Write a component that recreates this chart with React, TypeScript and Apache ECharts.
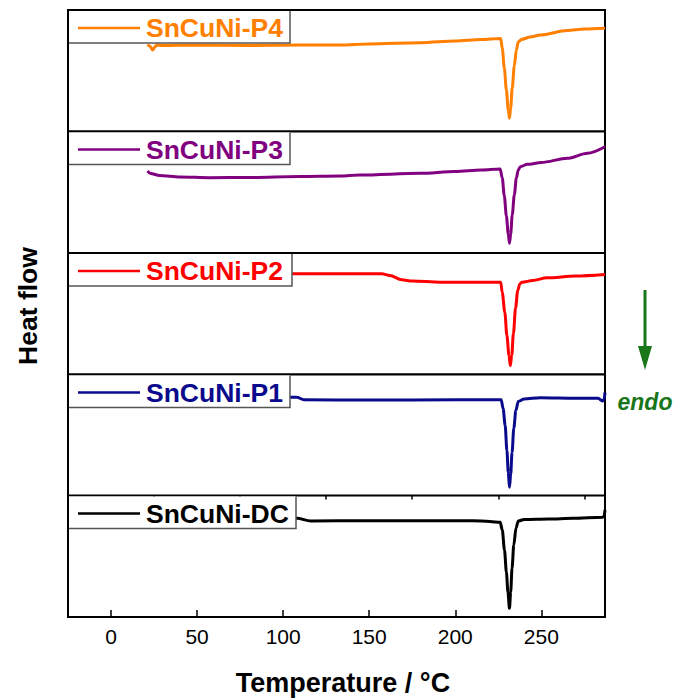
import React, { useEffect, useRef } from "react";
import * as echarts from "echarts";

const xMin = -25;
const xMax = 287;
const majorTicks = [0, 50, 100, 150, 200, 250];
const minorTicks = [25, 75, 125, 175, 225, 275];

const names = ["SnCuNi-P4", "SnCuNi-P3", "SnCuNi-P2", "SnCuNi-P1", "SnCuNi-DC"];
const colors = ["#ff7f00", "#800080", "#ff0000", "#0a0a8c", "#000000"];

// heat flow (arbitrary units) vs temperature (°C)
const p4: number[][] = [
  [21.2, 87], [22.5, 85.5], [24.2, 81.5], [25.5, 84.5], [26.5, 86.5], [30, 86], [47, 86.5], [80, 86],
  [110, 86.5], [133, 86.5], [150, 87.5], [180, 88.8], [200, 90.5], [215, 92], [226.4, 93],
  [227.3, 83.5], [228.5, 63.5], [229.7, 41.5], [230.8, 21.5], [231.5, 13.2], [232.2, 23.5],
  [233.1, 43.5], [234.3, 65.5], [235.5, 81.5], [236.6, 89.5], [238.4, 92], [243.6, 94.5],
  [249.4, 96.5], [265, 101], [275, 102.5], [287, 103.2],
];
const p3: number[][] = [
  [21.2, 82], [23, 79.5], [28.2, 77.5], [40, 76], [57.3, 75.3], [80, 75.5], [109.7, 76.5], [133, 77],
  [144.6, 78], [179.6, 79.7], [200, 81.5], [215, 83], [226.1, 84],
  [227.3, 75], [228.5, 57], [229.7, 37], [230.8, 19], [231.5, 9.7], [232.2, 19], [233.1, 38],
  [234.3, 58], [235.5, 75], [236.6, 83], [237.8, 86.3], [241.9, 88.7], [250, 90.5],
  [265.1, 94.7], [276.8, 99.7], [287, 106.3],
];
const p2: number[][] = [
  [22, 100.7], [157.3, 100.7], [162, 99], [168.9, 94.7], [175, 93.5], [191.2, 92.3], [226.4, 92.3],
  [227.3, 82], [228.8, 62], [230, 39], [231.2, 19], [232, 9], [232.8, 19], [233.8, 41], [235, 66],
  [236.3, 84], [237.5, 90.5], [238.8, 92.3], [245, 94], [253.3, 96.7], [270, 98.5], [287, 100],
];
const p1: number[][] = [
  [22, 99], [108, 98.8], [112, 96.2], [150, 96], [200, 96.2], [226.7, 96.2],
  [227.8, 87.5], [229, 70.5], [230, 45.5], [230.8, 23.5], [231.5, 8.8], [232.2, 21.5], [233, 43.5],
  [234, 67.5], [235.2, 85.5], [236.6, 94.5], [240, 97], [249.4, 98.3], [270, 97.8], [283, 97.8],
  [285.5, 95], [286.5, 96.5], [287, 103.5],
];
const dc: number[][] = [
  [22, 98.7], [108, 98.7], [116, 96], [150, 96.3], [210, 96.3], [220, 95.5], [226.1, 94.7],
  [227.3, 87], [228.6, 67], [229.7, 45], [230.6, 25], [231.5, 8.7], [232.2, 25], [233, 49],
  [234, 72], [235.3, 89], [236.6, 96], [240, 97.5], [254, 98], [268.5, 98.7], [285.5, 99.7],
  [286.5, 101], [287, 107],
];
const seriesData = [p4, p3, p2, p1, dc];

const tops = [10, 131.5, 253, 374.5, 495.5];
const panelH = 121.5;
const boxRights = [290, 290, 292, 290, 296];

export default function App() {
  const ref = useRef<HTMLDivElement>(null);
  useEffect(() => {
    if (!ref.current) return;
    const chart = echarts.init(ref.current, null, { renderer: "svg" });
    const font = '"Liberation Sans", Arial, sans-serif';
    const grids = tops.map((t) => ({
      left: 68,
      width: 537,
      top: t,
      height: panelH,
      show: true,
      borderColor: "#000",
      borderWidth: 2,
      backgroundColor: "#fff",
    }));
    const xAxes: any[] = tops.map((_, i) => ({
      type: "value",
      gridIndex: i,
      min: xMin,
      max: xMax,
      axisLine: { show: false },
      splitLine: { show: false },
      axisTick: i === 4
        ? { show: true, inside: true, length: 7, customValues: majorTicks, lineStyle: { color: "#000", width: 1.5 } }
        : { show: false },
      axisLabel: i === 4
        ? { show: true, customValues: majorTicks, fontSize: 21, fontFamily: font, color: "#000", margin: 9 }
        : { show: false },
    }));
    xAxes.push({
      type: "value",
      gridIndex: 4,
      min: xMin,
      max: xMax,
      axisLine: { show: false },
      splitLine: { show: false },
      axisTick: { show: true, inside: true, length: 4, customValues: minorTicks, lineStyle: { color: "#000", width: 1.5 } },
      axisLabel: { show: false },
    });
    const yAxes = tops.map((_, i) => ({
      type: "value",
      gridIndex: i,
      min: 0,
      max: panelH,
      show: false,
    }));
    const series = seriesData.map((d, i) => ({
      type: "line",
      name: names[i],
      xAxisIndex: i,
      yAxisIndex: i,
      data: d,
      showSymbol: false,
      symbol: "none",
      smooth: 0.3,
      smoothMonotone: "x",
      lineStyle: { color: colors[i], width: 3 },
      itemStyle: { color: colors[i] },
      z: 3,
    }));
    const graphics: any[] = [];
    tops.forEach((t, i) => {
      const r = boxRights[i];
      graphics.push({
        type: "rect",
        z: 100,
        shape: { x: 69, y: t + 1, width: r - 69, height: 32 },
        style: { fill: "#fff" },
      });
      graphics.push({
        type: "polyline",
        z: 101,
        shape: { points: [[69, t + 33], [r, t + 33], [r, t + 1]] },
        style: { stroke: "#555", lineWidth: 1.5, fill: null },
      });
      graphics.push({
        type: "line",
        z: 101,
        shape: { x1: 78, y1: t + 18, x2: 140, y2: t + 18 },
        style: { stroke: colors[i], lineWidth: 2.5 },
      });
      graphics.push({
        type: "text",
        z: 101,
        style: {
          text: names[i],
          x: 146,
          y: t + 18,
          font: `bold 26.5px ${font}`,
          fill: colors[i],
          textAlign: "left",
          textVerticalAlign: "middle",
        },
      });
    });
    graphics.push({
      type: "text",
      z: 101,
      style: {
        text: "Temperature / °C",
        x: 343,
        y: 683,
        font: `bold 27px ${font}`,
        fill: "#000",
        textAlign: "center",
        textVerticalAlign: "middle",
      },
    });
    graphics.push({
      type: "text",
      z: 101,
      x: 28,
      y: 306,
      rotation: Math.PI / 2,
      style: {
        text: "Heat flow",
        x: 0,
        y: 0,
        font: `bold 26.5px ${font}`,
        fill: "#000",
        textAlign: "center",
        textVerticalAlign: "middle",
      },
    });
    graphics.push({
      type: "line",
      z: 101,
      shape: { x1: 645, y1: 290, x2: 645, y2: 350 },
      style: { stroke: "#1a761a", lineWidth: 3 },
    });
    graphics.push({
      type: "polygon",
      z: 101,
      shape: { points: [[638, 346], [652, 346], [645, 370]] },
      style: { fill: "#1a761a" },
    });
    graphics.push({
      type: "text",
      z: 101,
      style: {
        text: "endo",
        x: 645,
        y: 402,
        font: `italic bold 23px ${font}`,
        fill: "#1a761a",
        textAlign: "center",
        textVerticalAlign: "middle",
      },
    });
    chart.setOption({
      animation: false,
      backgroundColor: "#fff",
      grid: grids,
      xAxis: xAxes,
      yAxis: yAxes,
      series,
      graphic: { elements: graphics },
    });
    return () => chart.dispose();
  }, []);
  return (
    <div
      ref={ref}
      style={{ position: "fixed", left: 0, top: 0, width: 686, height: 698, background: "#fff" }}
    />
  );
}
